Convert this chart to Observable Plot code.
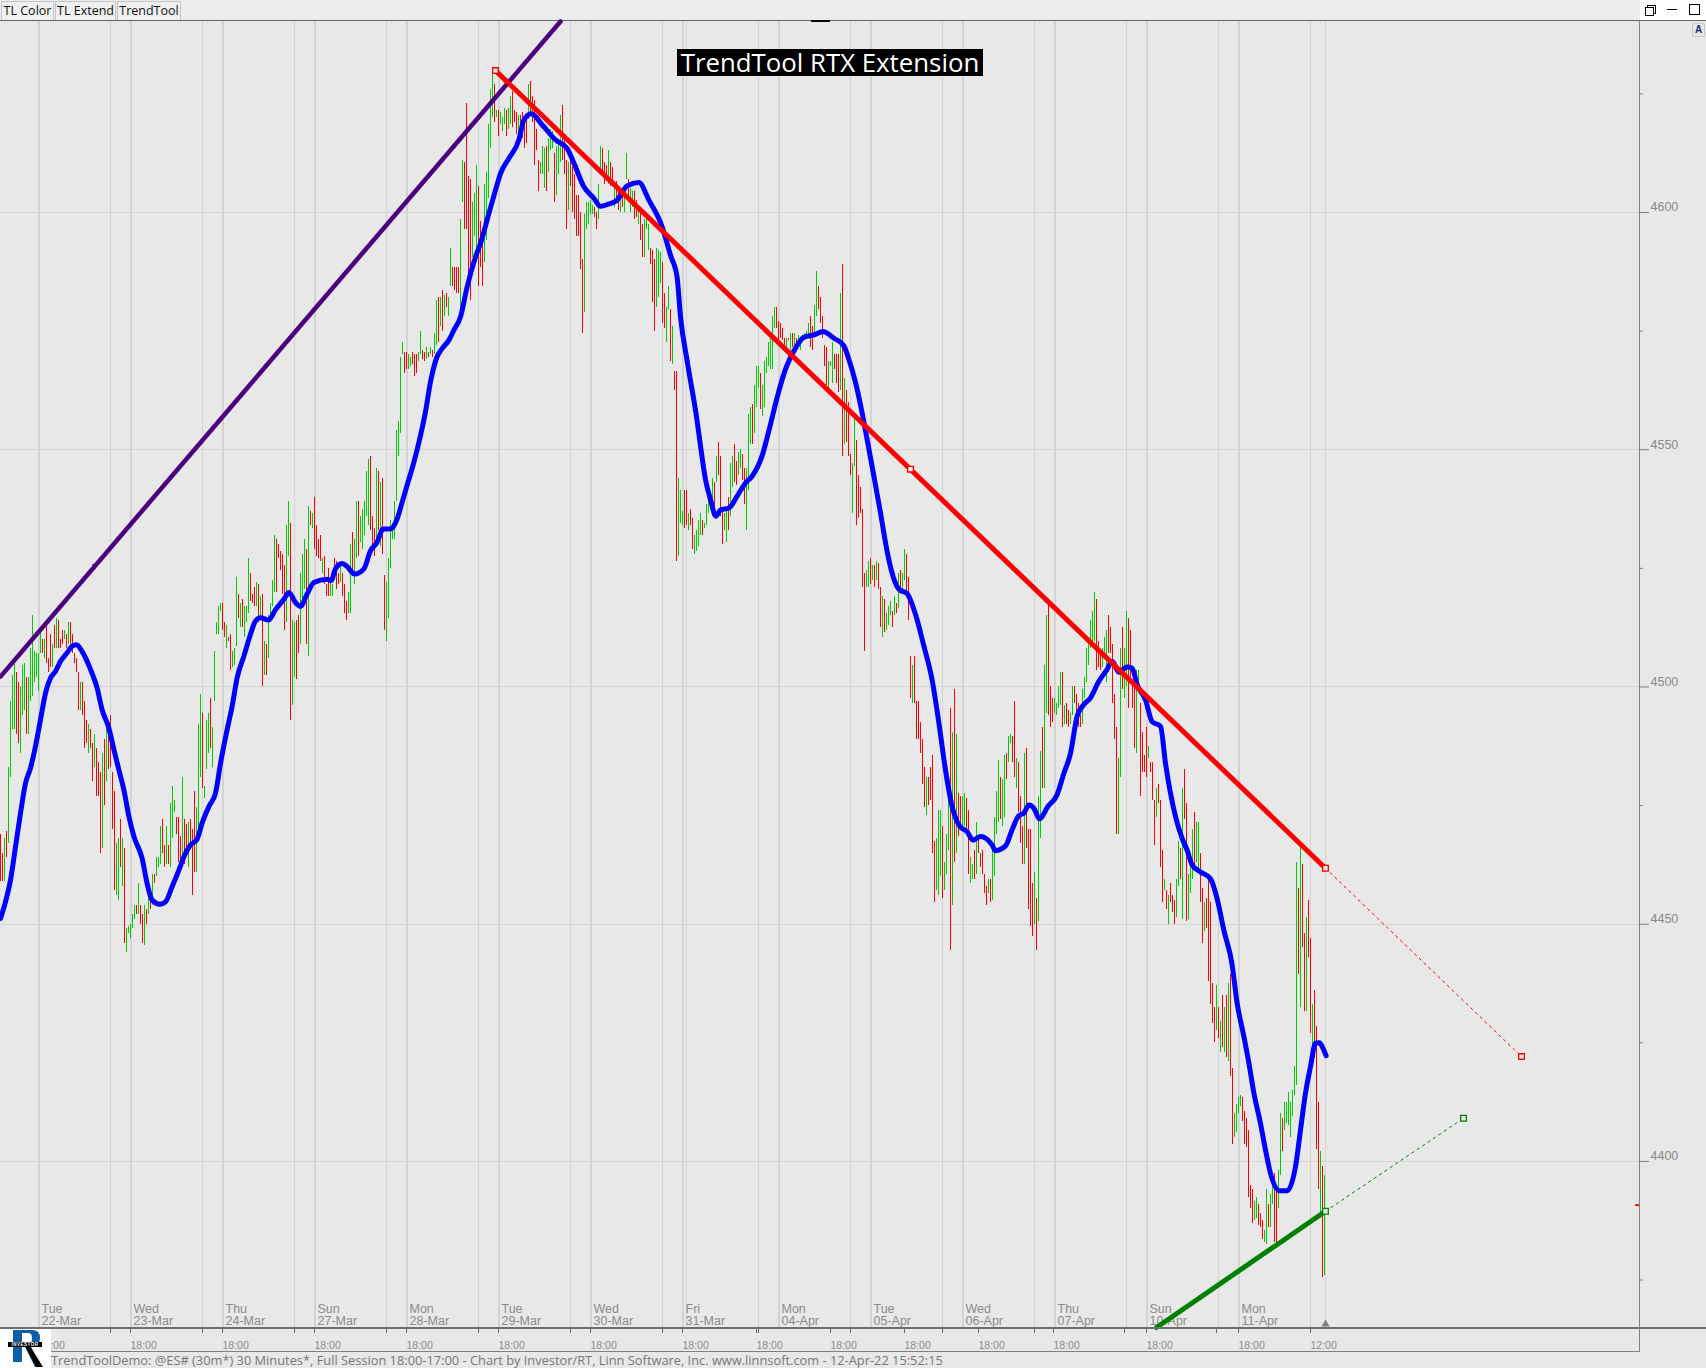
<!DOCTYPE html>
<html><head><meta charset="utf-8">
<script src="https://cdn.jsdelivr.net/npm/d3@7"></script>
<script src="https://cdn.jsdelivr.net/npm/@observablehq/plot@0.6"></script>
<style>
html,body{margin:0;padding:0;background:#e8e8e8;width:1706px;height:1368px;overflow:hidden;position:relative;font-family:"Liberation Sans",sans-serif}
.a{position:absolute}
.btn{position:absolute;top:1px;height:18px;background:#f0f0f0;border:1px solid #c4c4c4;font:12.5px/18px "Open Sans",sans-serif;color:#111;text-align:center}
#chart{position:absolute;left:0;top:21px}
</style></head><body>
<div class="a" style="left:0;top:0;width:1706px;height:20px;background:#ececec"></div>
<div class="btn" style="left:1px;width:51px">TL Color</div>
<div class="btn" style="left:55px;width:59px">TL Extend</div>
<div class="btn" style="left:117px;width:62px">TrendTool</div>
<div class="a" style="left:1640px;top:0;width:66px;height:20px;background:#fff"></div>
<div class="a" style="left:1647px;top:5px;width:7px;height:7px;border:1px solid #000;background:#fff"></div>
<div class="a" style="left:1645px;top:7px;width:7px;height:7px;border:1px solid #000;background:#fff"></div>
<div class="a" style="left:1667px;top:9px;width:10px;height:1px;background:#000"></div>
<div class="a" style="left:1689px;top:4px;width:9px;height:9px;border:1px solid #000"></div>
<div class="a" style="left:0;top:20px;width:1706px;height:1px;background:#666"></div>
<div id="chart"></div>
<div class="a" style="left:0;top:1327px;width:1706px;height:2px;background:#6e6e6e"></div>
<div class="a" style="left:51px;top:1351px;width:1589px;height:1px;background:#808080"></div>
<div class="a" style="left:1639px;top:21px;width:1px;height:1331px;background:#808080"></div>
<div class="a" style="left:811px;top:20px;width:19px;height:2px;background:#000"></div>
<div class="a" style="left:677px;top:49px;width:306px;height:27px;background:#000;color:#fff;font:25.8px/27px 'Open Sans',sans-serif;text-align:center;white-space:nowrap">TrendTool RTX Extension</div>
<div class="a" style="left:1692px;top:23px;width:11px;height:12px;border:1px solid #c8c8c8;border-radius:2px;font:bold 10px/12px 'Liberation Sans',sans-serif;color:#1a2a70;text-align:center">A</div>
<div class="a" style="left:51px;top:1352px;height:16px;font:12.84px/16px 'Open Sans',sans-serif;color:#777;white-space:nowrap">TrendToolDemo: @ES# (30m*) 30 Minutes*, Full Session 18:00-17:00 - Chart by Investor/RT, Linn Software, Inc. www.linnsoft.com - 12-Apr-22 15:52:15</div>
<div class="a" style="left:0;top:1329px;width:51px;height:39px;background:#fff;overflow:hidden">
  <svg class="a" style="left:0;top:0" width="51" height="39" viewBox="0 0 51 39">
    <path d="M13 1H32Q40 1 40 9Q40 17 31 18L41 38H35L25 18H22V33H13ZM22 4V15H29Q32 15 32 9Q32 4 28 4Z" fill="#0b5ea8" fill-rule="evenodd"/>
    <path d="M25 17L30 17L43 38H36Z" fill="#000"/>
  </svg>
  <div class="a" style="left:8px;top:13px;width:34px;height:5px;background:#000;color:#fff;font:bold 4.5px/5px 'Liberation Sans',sans-serif;text-align:center;letter-spacing:.5px">INVESTOR</div>
</div>
<script>
// Price bars: one entry per 30-minute bar.
const highs=[
4469,4465,4468,4469.5,4483,4497,4502.5,4506,4503,4501,4500,4504.5,4505,4502,4502,4508,4515,4507.5,4507,
4507,4512,4510,4510,4513,4506,4511,4509,4513,4514.5,4514,4510,4512,4512,4511,4513.5,4513.5,4511,4507,4506,4503,4501,4501,4497,4493,4492,4491,4488,4490,4487,4484,4482,4486,4489,4491.5,4490,4494,4482,4478,4467,4468,4472,4468,4466,4449,4449.5,
4450,4452,4454,4454,4458.5,4454,4452,4454,4453,4459,4456,4460.5,4460.5,4464,4464,4470.5,4472,4466.5,4470.5,4466.5,4475.5,4479,4476,4472.5,4472.5,4468.5,4481,4472,4471,4471.5,4472,4470,4478,4474.5,4492,4498.5,4494.5,4479,4493,4494.5,4497.5,4491.5,4507.5,4513.5,4517,4517.5,
4517.5,4513.5,4513,4510.5,4511,4507.5,4508,4523,4519.5,4517.5,4518.5,4517,4517,4527,4524,4519.5,4521,4522,4521.5,4519,4519.5,4509.5,4509,4515,4517.5,4522.5,4532,4531,4530,4528.5,4528,4525.5,4534,4539,4534.5,4514,4513.5,4514,4515,4524,4528,4531,4529,4538,4537,4536.5,
4540,4534,4531,4532,4527,4527.5,4521.5,4525,4522,4521.5,4527,4526.5,4524,4525.5,4524,4521.5,4518,4520,4530,4532.5,4531,4539,4539,4536,4537.5,4539,4545.5,4548,4548.5,4536,4533.5,4546,4545.5,4543,4544,4523.5,4522,4527,4535,4534.5,4539,4554,4556,4569.5,4572.5,4570.5,
4570.5,4570,4569.5,4570.5,4570,4570,4570.5,4575,4571,4570.5,4571.5,4570.5,4571.5,4571,4574.5,4581.5,4582,4582,4583.5,4582.5,4583,4582,4592.5,4588.5,4588.5,4588.5,4588.5,4598.5,4611,4610.5,4623,4607.5,4607,4602,4604,4610,4605.5,4598,4594,4606,4608.5,4618.5,4626,4629,4627,4621.5,
4621.5,4621,4620,4622,4621.5,4622,4624.5,4625.5,4621.5,4621,4620.5,4620.5,4621,4619,4619.5,4627,4627.5,4624.5,4623.5,4617.5,4611,4610.5,4614,4613.5,4614,4615.5,4617.5,4617,4612.5,4614,4615,4620.5,4622.5,4615.5,4611,4610.5,4611,4609.5,4608,4603.5,4603.5,4600,4590,4599.5,4602,4602,
4602.5,4601.5,4601,4600,4606,4614,4613.5,4610.5,4610,4613,4610.5,4609.5,4606.5,4606.5,4605.5,4605,4604.5,4604.5,4612.5,4607,4605,4604.5,4604.5,4602.5,4600.5,4600,4597.5,4598.5,4598.5,4597.5,4592.5,4592,4590,4592.5,4592,4591.5,4589.5,4583,4580,4584.5,4579.5,4576,4566.5,4566.5,4544,4541.5,
4537,4541.5,4541.5,4536.5,4537.5,4535.5,4532,4533,4535,4536.5,4535,4534.5,4538.5,4542,4541,4544,4543,4548.5,4551.5,4548.5,4537.5,4536.5,4537.5,4540,4547,4548.5,4551,4547.5,4549.5,4550,4549,4546,4546,4557.5,4559,4559.5,4563.5,4567.5,4567.5,4566,4563.5,4568.5,4569.5,4572.5,4573.5,4578,4580,4580,
4577,4576.5,4575.5,4573.5,4573.5,4573.5,4574.5,4574.5,4574.5,4573.5,4574,4573,4574,4574.5,4575,4576.5,4578,4576,4580.5,4587.5,4584.5,4582,4578,4572,4571.5,4568.5,4568.5,4572.5,4570,4570,4570,4583,4589,4565,4562.5,4560,4549,4547,4557,4552,4544.5,4542,4537.5,4524,4524.5,4526.5,
4527,4525.5,4525.5,4526.5,4526,4521,4519,4518.5,4515.5,4517,4518,4516,4519,4517.5,4524,4524.5,4524,4529,4528,4523,4506.5,4504.5,4506.5,4497,4497,4492.5,4489,4483,4481,4481,4483,4485.5,4467.5,4468,4474,4474,4470.5,4463,4469,4476,4495.5,4490.5,4499.5,4490,4477.5,4477,
4477,4477.5,4476.5,4474,4464,4462.5,4465.5,4471.5,4468,4465,4465.5,4460.5,4458,4459.5,4459.5,4466,4472.5,4478,4484.5,4481,4480.5,4485.5,4486,4489.5,4490,4489.5,4497,4485,4484,4477,4470.5,4486,4487,4470,4470,4458.5,4461,4455.5,4477,4486.5,4491.5,4504.5,4515,4517.5,4500,4497.5,
4497.5,4496.5,4500,4503,4503,4496,4496.5,4495,4494.5,4500,4500,4498.5,4496.5,4494,4499.5,4502,4508,4509.5,4514,4516,4520,4518.5,4509.5,4507.5,4508,4510.5,4512,4515,4512.5,4509,4498.5,4491.5,4485,4508,4512.5,4508,4516,4514.5,4512,4500,4501.5,4503.5,4503.5,4496.5,4490.5,4485.5,
4491.5,4487.5,4484,4484,4476,4478.5,4479.5,4476,4465.5,4459.5,4457,4456,4458.5,4456,4455,4459.5,4467.5,4466,4478.5,4482.5,4475.5,4460.5,4462.5,4470,4473.5,4471.5,4471.5,4465,4457.5,4454.5,4455.5,4459.5,4454.5,4437.5,4432.5,4437,4432.5,4429.5,4435,4432.5,4435,4437.5,4439.5,4419.5,4410,4412,
4413.5,4414,4413.5,4410.5,4409,4406.5,4395,4394,4391.5,4392.5,4391,4389,4387.5,4385.5,4394,4391,4393,4396,4397.5,4394.5,4398,4410,4409,4412.5,4412.5,4414.5,4412.5,4415,4420,4463,4457.5,4466.5,4462.5,4448,4451.5,4455,4447,4433,4436,4428.5,4412.5,4402,4399,4397];
const lows=[
4459,4459,4459,4464,4467,4481,4491,4491,4490,4488,4486,4494,4495,4490,4490,4497,4498,4501,4502,
4499,4507,4507,4506,4505,4503,4504,4504,4508,4508,4508,4508,4509,4510,4508,4509,4509,4507,4505,4503,4495,4495,4494,4487,4488,4486,4487,4480,4483,4477,4477,4465,4466,4475,4480,4482.5,4483,4470,4457,4456,4455,4462,4458,4446,4444,4448,
4447,4449,4451,4452,4452,4450,4446,4445.5,4450,4452,4453,4454,4458.5,4460,4462,4462.5,4465,4462,4462.5,4462.5,4462,4468,4473.5,4469,4463,4462.5,4462,4462.5,4465,4462,4467,4456,4461,4461,4468,4481,4478.5,4476.5,4482.5,4486,4487,4483,4497,4511,4511,4516,
4512,4510.5,4508,4509.5,4503.5,4504,4504.5,4508.5,4514.5,4512.5,4512.5,4510.5,4513.5,4515.5,4518,4517.5,4517,4517,4513.5,4514,4500,4502.5,4502.5,4506,4513.5,4517,4520,4520,4527,4524.5,4519.5,4512,4513.5,4527.5,4493,4496,4502,4501.5,4507,4509,4516.5,4520.5,4509,4506.5,4534,4533.5,
4529,4527.5,4527,4526.5,4524,4521.5,4519,4519,4519,4519,4523,4520.5,4521.5,4522,4519,4515.5,4514,4515.5,4515.5,4524.5,4521.5,4527,4527.5,4530.5,4529,4532,4536,4534,4533,4530,4527.5,4530,4533,4529.5,4528,4512,4509.5,4514.5,4525,4531,4531,4539,4548.5,4553.5,4570,4566,
4567,4567,4567.5,4568,4565.5,4566,4568.5,4570,4569,4568.5,4569,4569.5,4570,4569.5,4570,4572,4572.5,4576,4575,4578,4580,4578,4584.5,4584.5,4583.5,4583,4583,4580,4602,4596.5,4596.5,4587,4581.5,4590.5,4595,4589.5,4584.5,4588.5,4584.5,4589.5,4594,4603,4613.5,4620,4619,4620,
4616,4618.5,4617,4618.5,4616,4617.5,4618.5,4618,4619,4616.5,4616.5,4617.5,4615.5,4613.5,4614.5,4619.5,4620.5,4619,4610,4613,4604.5,4608,4608,4605,4604.5,4608.5,4613,4613.5,4602,4603.5,4608,4610.5,4611,4608,4596.5,4600.5,4605.5,4600,4598.5,4595,4595,4588,4574.5,4579,4596.5,4597.5,
4599.5,4599.5,4599,4596.5,4598.5,4608,4608,4606,4606.5,4606,4605.5,4605.5,4601,4602,4600.5,4600,4601,4600,4607,4602.5,4600,4601,4598.5,4599,4597.5,4594,4590.5,4590.5,4596.5,4592,4589,4581,4575,4580,4582,4585,4576.5,4575.5,4572.5,4579.5,4568.5,4568,4562.5,4526.5,4527.5,4534.5,
4534,4533.5,4534,4533,4534,4529,4528,4528.5,4529.5,4532,4532,4533.5,4534,4536.5,4540,4536,4536,4543,4544.5,4536,4530,4533,4530.5,4533,4536,4542,4543,4542.5,4544.5,4546,4543.5,4538.5,4533,4541.5,4551,4551,4553.5,4559,4563,4558.5,4557,4559,4566,4567.5,4567,4567,4575.5,4575.5,
4572.5,4573.5,4573,4572,4570.5,4573,4571,4571.5,4572,4572,4571.5,4571,4573,4573,4573.5,4573.5,4571.5,4571,4574.5,4578,4579.5,4576.5,4573.5,4567.5,4563.5,4563,4567.5,4564,4567,4564,4562,4562.5,4548.5,4551,4551.5,4548.5,4544.5,4536.5,4546.5,4534,4535.5,4536.5,4521,4507.5,4521,4521,
4521.5,4522.5,4521,4522.5,4520.5,4512.5,4510.5,4511.5,4512,4513,4515,4512.5,4515,4515.5,4516.5,4519.5,4520,4522.5,4520,4514,4497.5,4496.5,4496.5,4489,4489,4486,4479.5,4474.5,4473,4475,4476,4465,4454.5,4457,4456,4460,4455.5,4457,4460.5,4465.5,4444.5,4454,4463,4465,4468.5,4470.5,
4470.5,4470.5,4469,4460.5,4458.5,4459.5,4459.5,4460.5,4465,4462,4460.5,4456.5,4454,4456.5,4454.5,4455,4460,4469,4471.5,4472,4470.5,4472.5,4480.5,4484,4488,4484,4481,4478.5,4473.5,4467,4462.5,4462.5,4466,4453,4449.5,4447.5,4450,4444.5,4450.5,4468,4478.5,4478.5,4494.5,4494,4491.5,4492.5,
4494.5,4494,4495.5,4496,4491.5,4492,4492,4491.5,4492,4494,4496.5,4493,4491.5,4491.5,4492,4497.5,4501,4504.5,4508,4508.5,4509.5,4503.5,4504,4503.5,4504,4506.5,4501,4507,4507,4496.5,4489,4469,4469,4481,4499.5,4497.5,4500,4495.5,4502,4495.5,4487,4486,4499,4477,4482,4482,
4481,4485,4482,4476,4466.5,4472.5,4475.5,4462,4454.5,4457,4453,4450,4454.5,4452.5,4450,4451.5,4458,4459.5,4451,4472,4450.5,4451,4456.5,4459.5,4462,4463,4461,4454.5,4446,4448.5,4449,4438,4433,4429,4425,4427.5,4426,4423,4424,4423,4422,4421,4418,4403.5,4405,4406,
4410,4411.5,4408.5,4403.5,4403,4392.5,4390,4387,4387.5,4388,4386.5,4386,4383.5,4383,4382.5,4386,4386,4391,4383,4383,4390,4397,4402,4406.5,4408,4407.5,4405,4409.5,4414,4416,4439.5,4432.5,4445,4431.5,4431.5,4443,4427,4424,4422,4402.5,4394,4389,4375.5,4376];
// G = up bar, R = down bar
const dirs=[
"RRGRGGGGRRGGGRGGGGG",
"GGRGRRRGRGRRRGRGRRRRRGRRRGRRGRRRGRGRRRRGGRGRGG",
"GGGRGRRGRGRGRGGGRRGRGGGRRRGRRGRRRGGGRGGGRGGGGG",
"RRGRRGGGRGRGGGRRRGRGRGRGGGGRRRRRGGRGGRRGGGRGRG",
"RRRRGRRRGGRRRGRRRGGRGGRGGGGGRRRGRGRRGGGGGGGGGR",
"RGGRRRGGRRGRGRGGRGRGRGGRRRRGGRRRRGGGRRRGGGGGRG",
"RGGGRGGRRRGRRRRGRRRRRGGGRGGGRGGGRRRGRRRRRRRGGG",
"GGRRGGRRRGRRGRRGRGGRGGRRGRRGGGRRRGGGRRGGRGRRGG",
"GRRGRRGGGGRGGGGGRGRRRGGRGGRRGGRRGGGRGGGRGGGGGGGR",
"RRRRGRGRGRGGGGGGRRGGRRRRRGGGRRRGRGRRRGGRRRRRGG",
"RGRGRRGRGGGRGRGRGGRRRGRRRRRRGRRRRGGGRGGGRGRGRR",
"GGRRGGRGRRRRRGRGGGGRGGRGGRRGRRRGRRRRGRGGRGGRRR",
"GGGGRGRRGGRRRRGGGGGGGRRRGGGRRRRRGGRGGRRRRGGRRR",
"RGRRRGRRRGRGRRRGGRGRRGGGRGGRRGRRRRRGRGRGRGRRGG",
"GGRRRRRRGGRRRGGRGGRRGGRGGGGGGGRGRRGRRGRRRGRG"
].join("");
// Blue smoothing line: bar position and price.
const blueBar=[0,2.5,5,7.5,10,12.5,15,17.5,20,22.5,25,27.5,30,33.3,35.8,38,40.8,45,48.3,50.8,54.2,56.7,59.2,61.7,64.2,66.7,70.8,73.3,75.8,79.7,82.5,85.8,89.2,91.7,95,98.3,100.8,104.2,107.5,110,113.3,115.8,118.3,121.7,125,127.5,130,134,137.5,141.7,144.2,147.5,150,153.3,156.7,163.3,165.3,167.5,170.8,173.3,177,181.7,185,188.3,191.3,195,198.3,200.8,203.3,206.7,210,212.5,215,218.3,220.8,224.2,226.7,230,233.3,237.5,240,244.2,247.5,250,254.2,259.2,261.7,265.5,270.8,277.5,283.3,286.7,291.7,296.7,300,304.2,308.3,313.3,319.2,324.2,330.8,335,338.3,340,343.3,348.3,350,352.5,355,357.7,360,364.2,368.3,372.5,375.8,380.8,384.2,388.3,392.5,396.7,401.7,406.7,411.2,416.7,421.7,424.2,427.5,430.8,433.3,436.7,440,443.3,445.3,449.2,453.3,457.5,461.7,465.8,469.2,472.5,475.8,479.7,483.3,486.3,490,495.8,497.5,502.5,505.8,509.2,511.7,514.2,516.7,519.5,523.7,528.3,531.7,535,538.3,541.7,545,549.2,553.3,555.8,559.2,563.3,565.8,568.3,572.5,575.8,580,582.5,585,587.5,590.8,593.3,595.8,600,605,608.3,611.7,615.8,618.3,621.7,624.2,626.7,630,632.5,635,639.7,643.3,647.5,650,652.5,655,657.5,659.5,661.2,662.8];
const bluePrice=[4451.2,4454.7,4459.3,4466.3,4473.4,4479.7,4482.9,4487.5,4493.1,4498.7,4501.9,4503.3,4505.4,4507.2,4508.6,4508.9,4507.5,4503.7,4499.8,4495.2,4491.3,4486.8,4482.5,4478.3,4472.7,4468.5,4463.9,4458.6,4455.1,4454.2,4454.7,4457.9,4461.4,4464.2,4466.7,4467.9,4471.3,4474.8,4477.6,4483.9,4491,4495.9,4501.9,4506.5,4511.1,4513.9,4514.6,4514.1,4516.3,4518.5,4519.9,4517.8,4517,4519.6,4522,4522.7,4522.4,4524.9,4526,4525.4,4523.8,4524.9,4528.7,4530.5,4533.3,4533.3,4535.4,4538.9,4542.5,4547.4,4553,4558,4564.3,4569.6,4571.3,4573.1,4575.2,4578,4584.3,4590.6,4593.5,4599.8,4604.7,4608.2,4611.4,4615.3,4619.5,4620.8,4618.5,4615.3,4613.5,4610.4,4605.4,4603,4601.3,4601.8,4602.6,4605.6,4606.3,4602.6,4597,4591,4586.4,4578,4568.8,4556.1,4550.8,4543.7,4539.5,4536,4537.3,4537.7,4540.2,4543,4544.4,4548.7,4554,4561,4567,4570.8,4573.7,4574.2,4574.9,4573.5,4571.9,4569,4564.2,4557.8,4552.2,4544.4,4536.7,4528.6,4524.8,4520.6,4519.7,4515.3,4508.6,4501.5,4492.4,4482.5,4474.8,4470.6,4469.5,4467.7,4468.5,4466.7,4465.5,4466.5,4469.9,4472.9,4473.4,4475.1,4474.4,4472.2,4474.8,4477.3,4481.8,4486,4493.8,4496.3,4497.7,4501.2,4503.7,4505.4,4503.1,4504.2,4504,4500.5,4497.3,4492.7,4491.7,4483.9,4477.6,4472.7,4468.1,4465.6,4462.5,4461,4459.6,4455.4,4448.7,4441.5,4433.4,4426.3,4420.7,4414.4,4408,4402.4,4397.5,4393.8,4393.8,4398.9,4406.6,4414.4,4420,4424.9,4425,4423.9,4422.3];
// Trend lines: bar position and price of their end points.
const purpleBar=[0,280], purplePrice=[4502.2,4640.25];
const purpleNodeBar=[46.8], purpleNodePrice=[4525.6];
const redBar=[247.5,662.5], redPrice=[4629.9,4461.8];
const redExtBar=[662.5,760.5], redExtPrice=[4461.8,4422.1];
const redNodeBar=[247.5,455,662.5,760.5], redNodePrice=[4629.9,4545.9,4461.8,4422.1];
const greenBar=[578,662.5], greenPrice=[4365,4389.5];
const greenExtBar=[662.5,731.5], greenExtPrice=[4389.5,4409.1];
const greenNodeBar=[662.5,731.5], greenNodePrice=[4389.5,4409.1];
// Axes
const majorPrices=[4400,4450,4500,4550,4600];
const minorPrices=[4375,4425,4475,4525,4575,4625];
const dayBars=[19,65,111,157,203,249,295,341,389,435,481,527,573,619];
const dayNames=["Tue\n22-Mar","Wed\n23-Mar","Thu\n24-Mar","Sun\n27-Mar","Mon\n28-Mar","Tue\n29-Mar","Wed\n30-Mar","Fri\n31-Mar","Mon\n04-Apr","Tue\n05-Apr","Wed\n06-Apr","Thu\n07-Apr","Sun\n10-Apr","Mon\n11-Apr"];
const sessionBars=[55,101,147,193,239,285,331,343,379,425,471,517,563,609,655,662.5];
const timeBars=[19,65,111,157,203,249,295,341,378,415,452,489,526.5,573,619,655];
const timeNames=["18:00","18:00","18:00","18:00","18:00","18:00","18:00","18:00","18:00","18:00","18:00","18:00","18:00","18:00","18:00","12:00"];
const minorTimeBars=[55,101,147,193,239,285,331,379,425,471,517,562,608];
const priceMarker=[4390.8], lastBar=[662.5], frameBottom=[4365.7];

if(highs.length!==663||lows.length!==663||dirs.length!==663||blueBar.length!==bluePrice.length)
  throw new Error("length "+[highs.length,lows.length,dirs.length,blueBar.length,bluePrice.length]);

const bars=highs.map((h,i)=>({i,h,l:lows[i],d:dirs[i]}));
const pts=(xs,ys)=>xs.map((x,k)=>({x,y:ys[k]}));
const grey="#8a8a8a", FONT="'Liberation Sans',sans-serif";
const noLabel=()=>"";
const ln=(xs,ys,o)=>Plot.line(pts(xs,ys),{x:"x",y:"y",...o});
const sq=(xs,ys,c)=>Plot.dot(pts(xs,ys),{x:"x",y:"y",symbol:"square",r:3.2,stroke:c,strokeWidth:1.3,fill:"#e8e8e8"});

const plot=Plot.plot({
  width:1706,height:1330,marginTop:0,marginBottom:24,marginLeft:0,marginRight:67,
  style:{background:"transparent",fontFamily:FONT,fontSize:"12px",overflow:"visible"},
  x:{domain:[0,819.5],axis:null},
  y:{domain:[4365,4640.25],axis:null},
  marks:[
    Plot.ruleY(majorPrices,{stroke:"#d3d3d3",strokeWidth:1,shapeRendering:"crispEdges"}),
    Plot.ruleX(dayBars,{stroke:"#d3d3d3",strokeWidth:2,shapeRendering:"crispEdges"}),
    Plot.ruleX(sessionBars,{stroke:"#d3d3d3",strokeWidth:1,shapeRendering:"crispEdges"}),
    Plot.axisY({anchor:"right",ticks:majorPrices,tickSize:9,tickFormat:noLabel,stroke:"#808080",label:null}),
    Plot.axisY({anchor:"right",ticks:minorPrices,tickSize:3,tickFormat:noLabel,stroke:"#808080",label:null}),
    Plot.text(majorPrices,{y:d=>d,frameAnchor:"right",text:d=>String(d),textAnchor:"start",dx:11,dy:-5,fill:grey,fontSize:12.5}),
    Plot.axisX({anchor:"bottom",ticks:timeBars,tickSize:6,tickFormat:noLabel,stroke:"#666",label:null}),
    Plot.axisX({anchor:"bottom",ticks:minorTimeBars,tickSize:6,tickFormat:noLabel,stroke:"#666",label:null}),
    Plot.text(timeBars.map((b,k)=>({b,t:timeNames[k]})),{x:"b",text:"t",frameAnchor:"bottom",textAnchor:"start",lineAnchor:"middle",dy:18,fill:grey,fontSize:10.5}),
    Plot.text(dayBars.map((b,k)=>({b,t:dayNames[k]})),{x:"b",text:"t",frameAnchor:"bottom",textAnchor:"start",lineAnchor:"bottom",lineHeight:0.92,dx:3,dy:-3,fill:grey,fontSize:12.5}),
    Plot.ruleX(bars.filter(b=>b.d==="G"),{x:"i",y1:"l",y2:"h",stroke:"#00cc00",strokeWidth:1,shapeRendering:"crispEdges"}),
    Plot.ruleX(bars.filter(b=>b.d==="R"),{x:"i",y1:"l",y2:"h",stroke:"#ff0000",strokeWidth:1,shapeRendering:"crispEdges"}),
    ln(blueBar,bluePrice,{stroke:"#0000ff",strokeWidth:5,curve:"monotone-x",strokeLinejoin:"round"}),
    ln(purpleBar,purplePrice,{stroke:"#4b0082",strokeWidth:4.5}),
    ln(greenBar,greenPrice,{stroke:"#008000",strokeWidth:5}),
    ln(redBar,redPrice,{stroke:"#ff0000",strokeWidth:5}),
    ln(redExtBar,redExtPrice,{stroke:"#ff0000",strokeWidth:1,strokeDasharray:"2.5,4"}),
    ln(greenExtBar,greenExtPrice,{stroke:"#008000",strokeWidth:1,strokeDasharray:"2.5,4"}),
    sq(redNodeBar,redNodePrice,"#ff0000"),
    sq(greenNodeBar,greenNodePrice,"#008000"),
    Plot.dot(pts(purpleNodeBar,purpleNodePrice),{x:"x",y:"y",symbol:"square",r:1.8,fill:"#4b0082"}),
    Plot.ruleY(priceMarker,{x1:()=>817.6,x2:()=>819.5,stroke:"#ff0000",strokeWidth:2}),
    Plot.dot(lastBar,{x:d=>d,y:()=>frameBottom[0],symbol:"triangle",r:3,fill:"#808080"})
  ]
});
document.getElementById("chart").appendChild(plot);
</script>
</body></html>
